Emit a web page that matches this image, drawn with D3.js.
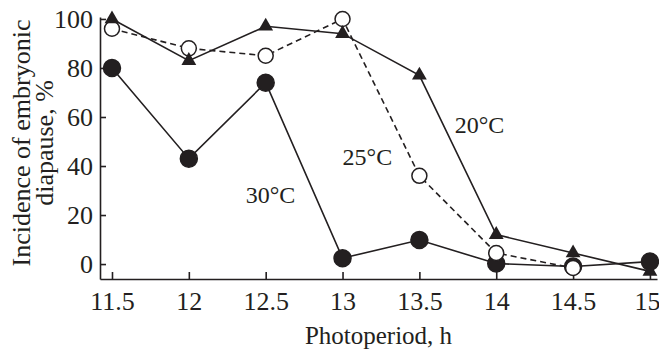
<!DOCTYPE html>
<html>
<head>
<meta charset="utf-8">
<script src="https://cdn.jsdelivr.net/npm/d3@7"></script>
<style>
  body { margin: 0; background: #fff; }
  svg { display: block; font-family: "Liberation Serif", "Times New Roman", serif; }
</style>
</head>
<body>
<div id="chart"></div>
<script>
// Photoperiod (h) on x, incidence of diapause (%) on y
const photoperiod = [11.5, 12, 12.5, 13, 13.5, 14, 14.5, 15];
const xTicks = [11.5, 12, 12.5, 13, 13.5, 14, 14.5, 15];
const yTicks = [0, 20, 40, 60, 80, 100];

const temp20 = [100, 83, 97, 94, 77, 12, 4.5, -3];
const temp25 = [96, 88, 85, 100, 36, 4.5, -1.6, null];
const temp30 = [80, 43, 74, 2.4, 9.8, 0.2, -1, 1];

const labels = [
  { text: '20°C', x: 13.73, y: 53.5 },
  { text: '25°C', x: 13.0, y: 40.4 },
  { text: '30°C', x: 12.37, y: 24.9 },
];

const width = 659, height = 354;
const ink = '#231f20';

const svg = d3.select('#chart').append('svg')
  .attr('width', width)
  .attr('height', height);

const x = d3.scaleLinear().domain([11.422, 15.046]).range([100, 657]);
const y = d3.scaleLinear().domain([-6.1, 100.8]).range([279, 17]);

// axes, ticks point inward
const xAxis = svg.append('g')
  .attr('transform', `translate(0,${y.range()[0]})`)
  .call(d3.axisBottom(x).tickValues(xTicks).tickSizeInner(-7).tickSizeOuter(0)
    .tickFormat(d3.format('')).tickPadding(13));

const yAxis = svg.append('g')
  .attr('transform', `translate(${x.range()[0]},0)`)
  .call(d3.axisLeft(y).tickValues(yTicks).tickSizeInner(-6).tickSizeOuter(0).tickPadding(7));

[xAxis, yAxis].forEach(g => {
  g.select('.domain').attr('stroke', ink).attr('stroke-width', 1.6);
  g.selectAll('.tick line').attr('stroke', ink).attr('stroke-width', 1.6);
  g.selectAll('.tick text')
    .attr('fill', ink)
    .style('font-family', '"Liberation Serif", serif')
    .style('font-size', '26px');
});
yAxis.selectAll('.tick text').attr('dy', '0.34em');
// last label sits against the right edge
xAxis.selectAll('.tick text').filter(d => d === 15).attr('dx', -3);

// axis titles
svg.append('text')
  .attr('x', (x.range()[0] + x.range()[1]) / 2)
  .attr('y', 344)
  .attr('text-anchor', 'middle')
  .attr('fill', ink)
  .style('font-size', '25px')
  .text('Photoperiod, h');

const yTitle = svg.append('text')
  .attr('transform', 'translate(30,143) rotate(-90)')
  .attr('text-anchor', 'middle')
  .attr('fill', ink)
  .style('font-size', '26px');
yTitle.append('tspan').attr('x', 0).attr('y', 0).text('Incidence of embryonic');
yTitle.append('tspan').attr('x', 0).attr('y', 23).text('diapause, %');

// series lines
const line = d3.line()
  .x(d => x(d[0]))
  .y(d => y(d[1]));

const series = [
  { values: temp30, dash: null, marker: 'filled' },
  { values: temp25, dash: '6,4', marker: 'open' },
  { values: temp20, dash: null, marker: 'triangle' },
];

series.forEach(s => {
  s.points = photoperiod.map((p, i) => [p, s.values[i]]).filter(d => d[1] !== null);
  svg.append('path')
    .datum(s.points)
    .attr('d', line)
    .attr('fill', 'none')
    .attr('stroke', ink)
    .attr('stroke-width', 1.6)
    .attr('stroke-dasharray', s.dash);
});

// markers
const tri = d3.symbol().type(d3.symbolTriangle).size(95);
series.forEach(s => {
  const g = svg.append('g');
  if (s.marker === 'triangle') {
    g.selectAll('path').data(s.points).join('path')
      .attr('d', tri)
      .attr('transform', d => `translate(${x(d[0])},${y(d[1])})`)
      .attr('fill', ink);
  } else {
    g.selectAll('circle').data(s.points).join('circle')
      .attr('cx', d => x(d[0]))
      .attr('cy', d => y(d[1]))
      .attr('r', s.marker === 'filled' ? 8.5 : 7.5)
      .attr('fill', s.marker === 'filled' ? ink : '#fff')
      .attr('stroke', ink)
      .attr('stroke-width', 1.5);
  }
});

// temperature labels
svg.selectAll('.temp-label').data(labels).join('text')
  .attr('class', 'temp-label')
  .attr('x', d => x(d.x))
  .attr('y', d => y(d.y))
  .attr('fill', ink)
  .style('font-size', '24px')
  .text(d => d.text);
</script>
</body>
</html>
